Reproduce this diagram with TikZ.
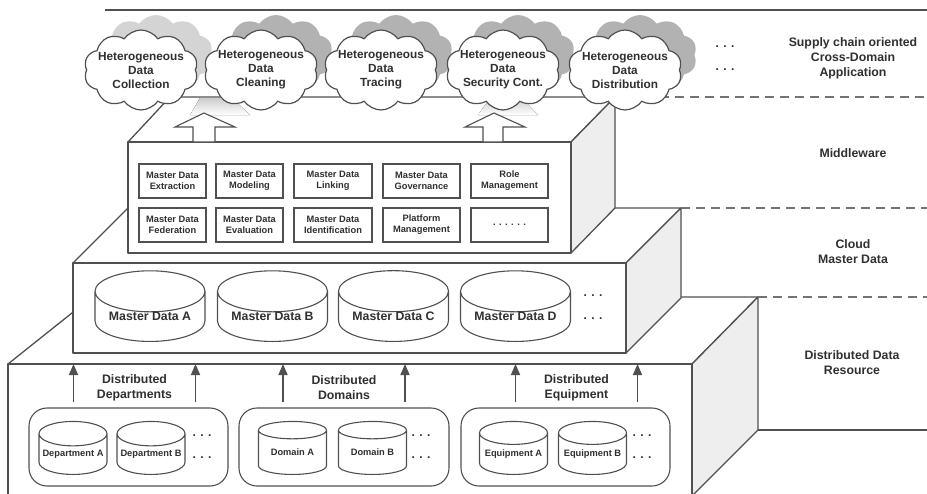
\documentclass[tikz,border=0pt]{standalone}
\usepackage{fontspec}
\setmainfont{Liberation Sans}
\usepackage{tikz}
\usepackage{xcolor}
\usetikzlibrary{shapes,arrows.meta,positioning,calc}

\definecolor{edgegray}{HTML}{505050}
\definecolor{txtgray}{HTML}{303030}
\definecolor{sidegray}{HTML}{EEEEEE}
\definecolor{puffgray}{HTML}{B2B2B2}
\definecolor{pufflight}{HTML}{D4D4D4}

\tikzset{
  face/.style={draw=edgegray, line width=1.3pt, fill=white, line join=round},
  sideface/.style={face, fill=sidegray},
  layerline/.style={draw=edgegray!80, line width=1.5pt, dash pattern=on 9pt off 6pt},
  cloudfront/.style={cloud, cloud puffs=10, cloud puff arc=110, cloud ignores aspect,
    draw=edgegray, line width=1.2pt, fill=white, minimum width=114pt, minimum height=80pt, inner sep=0pt},
  cloudshade/.style={cloud, cloud puffs=10, cloud puff arc=110, cloud ignores aspect,
    fill=puffgray, minimum width=114pt, minimum height=80pt, inner sep=0pt},
  cloudlabel/.style={text=txtgray, font=\fontsize{11.8}{14}\selectfont\bfseries, align=center},
  sidelabel/.style={text=txtgray, font=\fontsize{12.3}{15}\selectfont\bfseries, align=center},
  modbox/.style={draw=edgegray, line width=1.1pt, fill=white, minimum height=34pt, inner sep=0pt,
    text=txtgray, font=\fontsize{9.3}{11}\selectfont\bfseries, align=center},
  bigdb/.style={cylinder, shape border rotate=90, aspect=0.5, draw=edgegray, line width=1.1pt, fill=white,
    minimum width=110pt, minimum height=57pt, inner sep=0pt, anchor=bottom,
    text=txtgray, font=\fontsize{12.3}{14}\selectfont\bfseries},
  smalldb/.style={cylinder, shape border rotate=90, aspect=0.4, draw=edgegray, line width=1.1pt, fill=white,
    minimum width=68pt, minimum height=53pt, inner sep=0pt, anchor=bottom,
    text=txtgray, font=\fontsize{9.3}{11}\selectfont\bfseries},
  grpbox/.style={draw=edgegray, line width=1.1pt, rounded corners=18pt, minimum height=78pt},
  dots/.style={text=txtgray, font=\fontsize{12}{14}\selectfont\bfseries},
  uparrow/.style={draw=edgegray, line width=1.6pt, -{Triangle[length=11pt,width=9pt]}},
  blockarrow/.style={draw=edgegray, line width=1.1pt, fill=white, line join=miter},
  beam/.style={top color=gray!40, bottom color=white, draw=none}
}

\begin{document}
\begin{tikzpicture}[x=1pt, y=-1pt]
  \useasboundingbox (0,0) rectangle (927,493);

  % layer rules
  \draw[edgegray, line width=1.5pt] (105,10) -- (927,10);

  % shadow clouds
  \node[cloudshade, fill=pufflight] (sh1) at (156,55) {};
  \node[cloudshade] (sh2) at (276,55) {};
  \node[cloudshade] (sh3) at (396,55) {};
  \node[cloudshade] (sh4) at (518,55) {};
  \node[cloudshade] (sh5) at (640,55) {};

  % distributed data resource box
  \filldraw[face] (8,364) -- (92,297) -- (758,297) -- (692,364) -- cycle;
  \filldraw[sideface] (692,364) -- (758,297) -- (758,430) -- (692,496) -- cycle;
  \filldraw[face] (8,364) rectangle (692,498);
  \coordinate (resTop) at (8,364);
  \draw[layerline] (758,297) -- (927,297);
  \draw[edgegray, line width=1.5pt] (758,430) -- (927,430);

  % cloud master data box
  \filldraw[face] (73,263) -- (128,208) -- (681,208) -- (626,263) -- cycle;
  \filldraw[sideface] (626,263) -- (681,208) -- (681,298) -- (626,353) -- cycle;
  \filldraw[face] (73,263) rectangle (626,353);
  \draw[layerline] (681,208) -- (927,208);

  % middleware box
  \filldraw[face] (128,142) -- (170,97) -- (615,97) -- (571,142) -- cycle;
  \filldraw[sideface] (571,142) -- (615,97) -- (615,208) -- (571,253) -- cycle;
  \filldraw[face] (128,142) rectangle (571,253);
  \draw[layerline] (615,97) -- (927,97);

  % light beams and arrows on the middleware
  \fill[beam] (190,115) -- (250,115) -- (232,98) -- (200,98) -- cycle;
  \fill[beam] (478,115) -- (538,115) -- (522,98) -- (490,98) -- cycle;
  \filldraw[blockarrow] (193,142) -- (193,127) -- (175,127) -- (204,113) -- (235,127) -- (215,127) -- (215,142) -- cycle;
  \filldraw[blockarrow] (483,142) -- (483,127) -- (465,127) -- (494,113) -- (525,127) -- (503,127) -- (503,142) -- cycle;

  % clouds
  \node[cloudfront] (cl1) at (141,70) {};
  \node[cloudfront] (cl2) at (261,70) {};
  \node[cloudfront] (cl3) at (381,70) {};
  \node[cloudfront] (cl4) at (503,70) {};
  \node[cloudfront] (cl5) at (625,70) {};
  \node[cloudlabel] (tx1) at (cl1) {Heterogeneous\\Data\\Collection};
  \node[cloudlabel] (tx2) at (cl2) {Heterogeneous\\Data\\Cleaning};
  \node[cloudlabel] (tx3) at (cl3) {Heterogeneous\\Data\\Tracing};
  \node[cloudlabel] (tx4) at (cl4) {Heterogeneous\\Data\\Security Cont.};
  \node[cloudlabel] (tx5) at (cl5) {Heterogeneous\\Data\\Distribution};
  \node[dots] (dotA1) at (725,47) {. . .};
  \node[dots] (dotA2) at (725,70) {. . .};

  % middleware modules
  \node[modbox, minimum width=67pt] (mExtr) at (172.5,181) {Master Data\\Extraction};
  \node[modbox, minimum width=67pt] (mModel) at (249.5,181) {Master Data\\Modeling};
  \node[modbox, minimum width=78pt] (mLink) at (333,181) {Master Data\\Linking};
  \node[modbox, minimum width=77pt] (mGov) at (421.5,181) {Master Data\\Governance};
  \node[modbox, minimum width=77pt] (mRole) at (509.5,181) {Role\\Management};
  \node[modbox, minimum width=67pt] (mFed) at (172.5,225) {Master Data\\Federation};
  \node[modbox, minimum width=67pt] (mEval) at (249.5,225) {Master Data\\Evaluation};
  \node[modbox, minimum width=78pt] (mIdent) at (333,225) {Master Data\\Identification};
  \node[modbox, minimum width=77pt] (mPlat) at (421.5,225) {Platform\\Management};
  \node[modbox, minimum width=77pt] (mMore) at (509.5,225) {. . . . . .};

  % cloud master data stores
  \node[bigdb] (mdA) at (150,342) {Master Data A};
  \node[bigdb] (mdB) at (272.5,342) {Master Data B};
  \node[bigdb] (mdC) at (393.5,342) {Master Data C};
  \node[bigdb] (mdD) at (515.5,342) {Master Data D};
  \node[dots] (dotM1) at (593,296) {. . .};
  \node[dots] (dotM2) at (593,319) {. . .};

  % distributed sources
  \node[grpbox, minimum width=199pt] (grpDep) at (128.5,447) {};
  \node[grpbox, minimum width=210pt] (grpDom) at (344,447) {};
  \node[grpbox, minimum width=209pt] (grpEqu) at (565.5,447) {};
  \node[smalldb] (depA) at (73,475) {Department A};
  \node[smalldb] (depB) at (151,475) {Department B};
  \node[smalldb] (domA) at (292.5,475) {Domain A};
  \node[smalldb] (domB) at (372.5,475) {Domain B};
  \node[smalldb] (equA) at (513.5,475) {Equipment A};
  \node[smalldb] (equB) at (592.5,475) {Equipment B};
  \foreach \nm/\xx in {dotD/202, dotO/421, dotE/642} {
    \node[dots] (\nm1) at (\xx,436) {. . .};
    \node[dots] (\nm2) at (\xx,458) {. . .};
  }

  \node[sidelabel] (lblDep) at (134.5,388) {Distributed\\Departments};
  \node[sidelabel] (lblDom) at (344,388) {Distributed\\Domains};
  \node[sidelabel] (lblEqu) at (576.5,388) {Distributed\\Equipment};
  \foreach \lb/\gp in {lblDep/grpDep, lblDom/grpDom, lblEqu/grpEqu} {
    \coordinate (\lb L) at ($(\lb)+(-61,0)$);
    \coordinate (\lb R) at ($(\lb)+(61,0)$);
    \draw[uparrow] (\lb L |- \gp.north) ++(0,-5) -- (\lb L |- resTop);
    \draw[uparrow] (\lb R |- \gp.north) ++(0,-5) -- (\lb R |- resTop);
  }

  % layer names
  \node[sidelabel] (lblApp) at (853,58) {Supply chain oriented\\Cross-Domain\\Application};
  \node[sidelabel] (lblMid) at (853,153) {Middleware};
  \node[sidelabel] (lblCloud) at (853,252) {Cloud\\Master Data};
  \node[sidelabel] (lblRes) at (852,363) {Distributed Data\\Resource};
\end{tikzpicture}
\end{document}
